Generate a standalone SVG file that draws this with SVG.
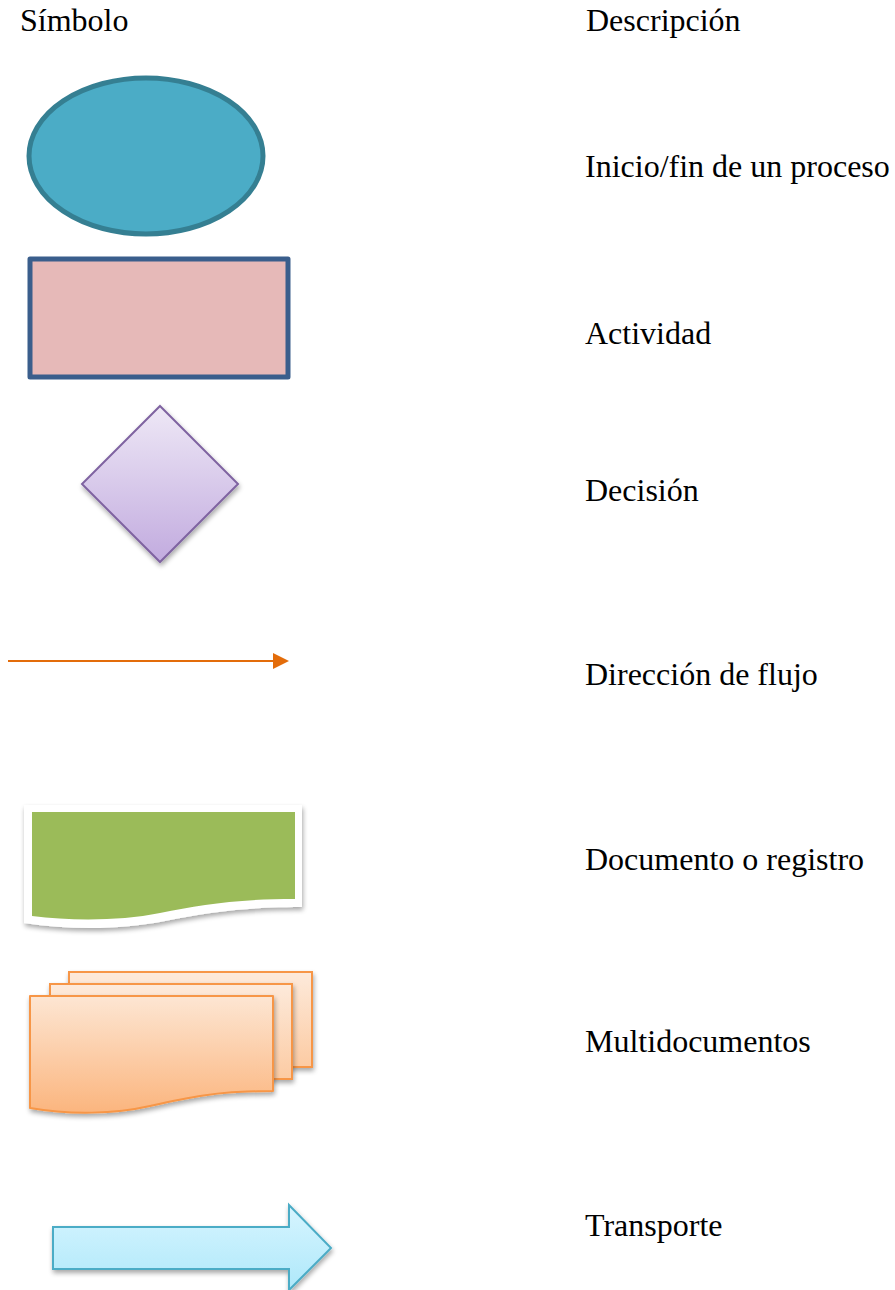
<svg xmlns="http://www.w3.org/2000/svg" width="895" height="1290" viewBox="0 0 895 1290">
<style>
  .t { font-family: "Liberation Serif", "Times New Roman", serif; font-size: 32px; fill: #000; }
</style>
<defs>
  <linearGradient id="gPurple" x1="0" y1="0" x2="0" y2="1">
    <stop offset="0" stop-color="#EEE8F6"/>
    <stop offset="1" stop-color="#C2ABDF"/>
  </linearGradient>
  <linearGradient id="gOrange" x1="0" y1="0" x2="0" y2="1">
    <stop offset="0" stop-color="#FDE6D3"/>
    <stop offset="1" stop-color="#FBB57E"/>
  </linearGradient>
  <linearGradient id="gOrangeBack" x1="0" y1="0" x2="0" y2="1">
    <stop offset="0" stop-color="#FDEADB"/>
    <stop offset="1" stop-color="#FCCBA3"/>
  </linearGradient>
  <linearGradient id="gBlue" x1="0" y1="0" x2="0" y2="1">
    <stop offset="0" stop-color="#D7F5FF"/>
    <stop offset="1" stop-color="#AEE8FA"/>
  </linearGradient>
  <filter id="shadow" x="-10%" y="-10%" width="125%" height="130%">
    <feGaussianBlur in="SourceAlpha" stdDeviation="2.5"/>
    <feOffset dx="1" dy="3" result="b"/>
    <feComponentTransfer><feFuncA type="linear" slope="0.35"/></feComponentTransfer>
    <feMerge><feMergeNode/><feMergeNode in="SourceGraphic"/></feMerge>
  </filter>
  <marker id="orangeHead" viewBox="0 0 16 16" refX="0" refY="8" markerWidth="16" markerHeight="16" markerUnits="userSpaceOnUse" orient="auto">
    <path d="M0,0 L16,8 L0,16 Z" fill="#E36C0A"/>
  </marker>
</defs>

<g id="headers">
  <text class="t" x="20" y="31">Símbolo</text>
  <text class="t" x="586" y="31">Descripción</text>
</g>

<g id="inicio-fin">
  <ellipse cx="146" cy="156" rx="117" ry="78" fill="#4BACC6" stroke="#357F92" stroke-width="5"/>
  <text class="t" x="585" y="177">Inicio/fin de un proceso</text>
</g>

<g id="actividad">
  <rect x="30" y="259" width="258" height="118" fill="#E6B9B8" stroke="#3A5E8C" stroke-width="5" stroke-linejoin="round"/>
  <text class="t" x="585" y="344">Actividad</text>
</g>

<g id="decision">
  <path d="M160,406 L238,484 L160,562 L82,484 Z" fill="url(#gPurple)" stroke="#7F63A1" stroke-width="2" filter="url(#shadow)"/>
  <text class="t" x="585" y="501">Decisión</text>
</g>

<g id="connectors">
  <line x1="8" y1="661" x2="273" y2="661" stroke="#E36C0A" stroke-width="2" marker-end="url(#orangeHead)"/>
</g>
<g id="direccion-flujo">
  <text class="t" x="585" y="685">Dirección de flujo</text>
</g>

<g id="documento">
  <path d="M24,805 H302 V907 C240,907 205,913 165,921 C120,930 70,930 24,923 Z" fill="#FFFFFF" filter="url(#shadow)"/>
  <path d="M32,812 H295 V899 C235,899 200,905 160,913 C120,921 72,921 32,916 Z" fill="#9BBB59"/>
  <text class="t" x="585" y="870">Documento o registro</text>
</g>

<g id="multidocumentos">
  <rect x="69" y="972" width="243" height="95" fill="url(#gOrangeBack)" stroke="#F79646" stroke-width="2" filter="url(#shadow)"/>
  <rect x="50" y="984" width="242" height="95" fill="url(#gOrangeBack)" stroke="#F79646" stroke-width="2" filter="url(#shadow)"/>
  <path d="M30,996 H273 V1091 C215,1091 185,1098 150,1106 C115,1114 70,1115 30,1108 Z" fill="url(#gOrange)" stroke="#F79646" stroke-width="2" stroke-linejoin="round" filter="url(#shadow)"/>
  <text class="t" x="585" y="1052">Multidocumentos</text>
</g>

<g id="transporte">
  <path d="M53,1227 H289 V1205 L331,1248 L289,1290 V1269 H53 Z" fill="url(#gBlue)" stroke="#4BACC6" stroke-width="2" stroke-linejoin="miter" filter="url(#shadow)"/>
  <text class="t" x="585" y="1236">Transporte</text>
</g>
</svg>
